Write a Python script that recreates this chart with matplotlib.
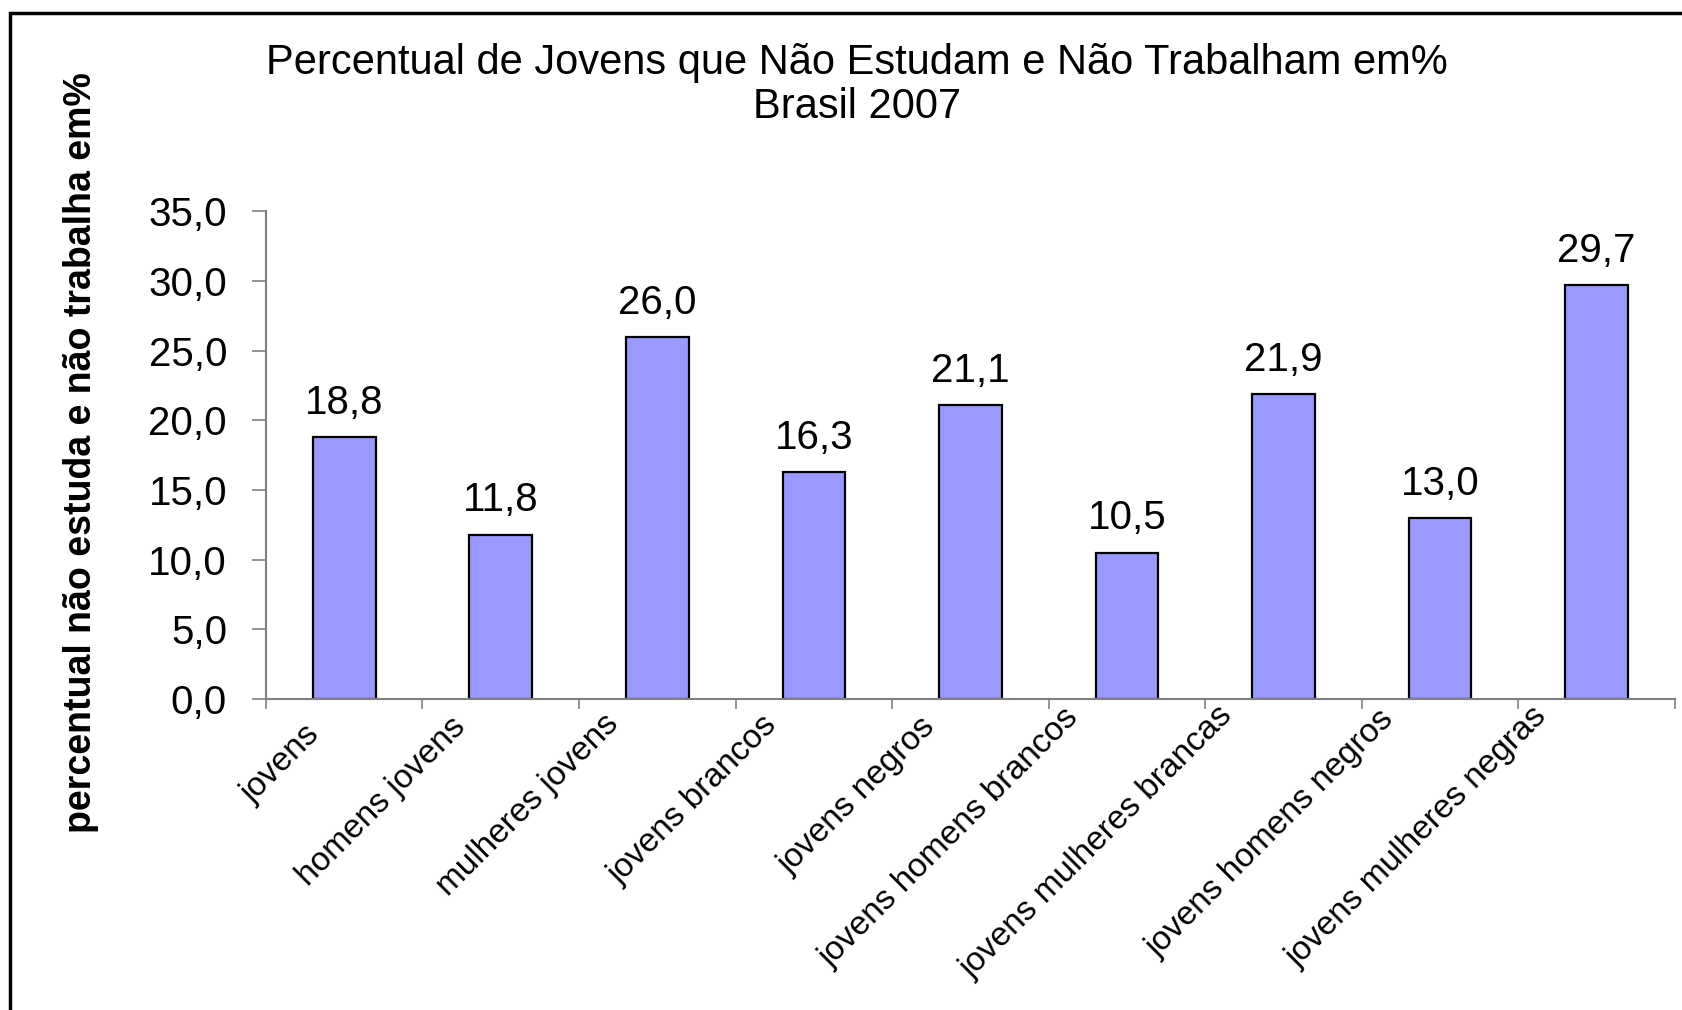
import matplotlib
matplotlib.use('Agg')
import matplotlib.pyplot as plt
import matplotlib.patches as patches
import matplotlib.transforms as mtransforms
import numpy as np

plt.rcParams['font.family'] = ['Liberation Sans', 'DejaVu Sans']

# data
categories = ['jovens', 'homens jovens', 'mulheres jovens', 'jovens brancos',
              'jovens negros', 'jovens homens brancos', 'jovens mulheres brancas',
              'jovens homens negros', 'jovens mulheres negras']
values = [18.8, 11.8, 26.0, 16.3, 21.1, 10.5, 21.9, 13.0, 29.7]
yticks = [0, 5, 10, 15, 20, 25, 30, 35]

title = 'Percentual de Jovens que Não Estudam e Não Trabalham em%\nBrasil 2007'
ylabel = 'percentual não estuda e não trabalha em%'

def br(v):
    return f'{v:.1f}'.replace('.', ',')

fig = plt.figure(figsize=(16.83, 10.10), dpi=100)
ax = fig.add_axes([0.158, 0.308, 0.8372, 0.4826])

x = np.arange(len(categories))
bars = ax.bar(x, values, width=0.4, color='#9999FF', edgecolor='black', linewidth=1.6)
ax.bar_label(bars, labels=[br(v) for v in values], padding=11, fontsize=29)

ax.set_xlim(-0.5, len(categories) - 0.5)
ax.set_ylim(0, 35)
ax.set_yticks(yticks)
ax.set_yticklabels([br(v) for v in yticks], fontsize=29)

# labels at category centres, tick marks at boundaries
ax.set_xticks(x)
ax.set_xticklabels(categories, fontsize=24, rotation=45, ha='right', va='top',
                   rotation_mode='anchor')
ax.tick_params(axis='x', which='major', length=0, pad=0)
ax.set_xticks(np.arange(len(categories) + 1) - 0.5, minor=True)
ax.tick_params(axis='x', which='minor', length=7, width=1.2, color='#808080')
ax.tick_params(axis='y', length=10, width=1.2, color='#808080', pad=18)

# longer labels sit a little higher and further left, as in the original
for lbl in ax.get_xticklabels():
    n = len(lbl.get_text())
    dx = -(30 + 1.6 * n) / 100.0
    dy = -(26.3 - 1.1 * n) / 100.0
    off = mtransforms.ScaledTranslation(dx, dy, fig.dpi_scale_trans)
    lbl.set_transform(lbl.get_transform() + off)

for s in ['top', 'right']:
    ax.spines[s].set_visible(False)
for s in ['left', 'bottom']:
    ax.spines[s].set_color('#808080')
    ax.spines[s].set_linewidth(1.5)

fig.text(0.509, 0.916, title, ha='center', va='center', fontsize=30, linespacing=1.12)
fig.text(0.048, 0.5515, ylabel, rotation=90, ha='center', va='center',
         fontsize=27, fontweight='bold')

# outer chart border (runs off the right and bottom edges)
fig.patches.append(patches.Rectangle((0.006, -0.2), 1.2, 1.1875, transform=fig.transFigure,
                                     fill=False, edgecolor='black', linewidth=2.5))

fig.savefig('out.png', dpi=100)
